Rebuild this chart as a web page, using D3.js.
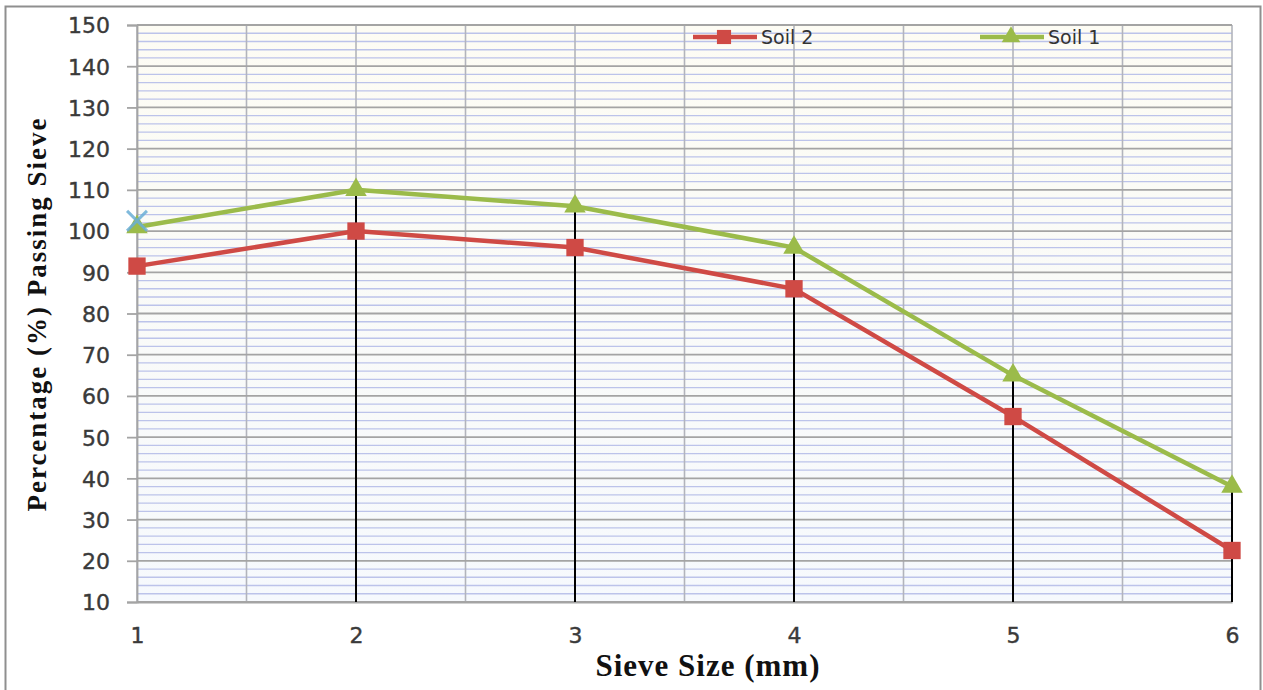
<!DOCTYPE html>
<html>
<head>
<meta charset="utf-8">
<script src="https://cdn.jsdelivr.net/npm/d3@7/dist/d3.min.js"></script>
<style>
  body { margin: 0; background: #fff; }
  svg { display: block; }
</style>
</head>
<body>
<script>
// data
var sieveSizes = [1, 2, 3, 4, 5, 6];
var soil1 = [101, 110, 106, 96, 65, 38];
var soil2 = [91.5, 100, 96, 86, 55, 22.5];
var extraPoint = [{x: 1, y: 102.5}];  // lone blue "x" marker at size 1
var yTicks = [10, 20, 30, 40, 50, 60, 70, 80, 90, 100, 110, 120, 130, 140, 150];

var W = 1263, H = 690;
var plotL = 137, plotR = 1232, plotT = 25, plotB = 602;

var svg = d3.select("body").append("svg")
    .attr("width", W).attr("height", H);

// outer frame
svg.append("rect")
    .attr("x", 5.5).attr("y", 6.5)
    .attr("width", 1255).attr("height", 700)
    .attr("fill", "#fff").attr("stroke", "#8f8f8f").attr("stroke-width", 2);

var x = d3.scaleLinear().domain([1, 6]).range([plotL, plotR]);
var y = d3.scaleLinear().domain([10, 150]).range([plotB, plotT]);

// plot background
var defs = svg.append("defs");
var grad = defs.append("linearGradient").attr("id", "bg")
    .attr("x1", 0).attr("y1", 0).attr("x2", 0).attr("y2", 1);
grad.append("stop").attr("offset", "0%").attr("stop-color", "#fdfcf4");
grad.append("stop").attr("offset", "100%").attr("stop-color", "#f6f9fd");

svg.append("rect")
    .attr("x", plotL).attr("y", plotT)
    .attr("width", plotR - plotL).attr("height", plotB - plotT)
    .attr("fill", "url(#bg)");

// minor horizontal grid (every 2)
var minor = d3.range(12, 150, 2).filter(function(v) { return v % 10 !== 0; });
svg.append("g").selectAll("line").data(minor).enter().append("line")
    .attr("x1", plotL).attr("x2", plotR)
    .attr("y1", function(d) { return y(d); })
    .attr("y2", function(d) { return y(d); })
    .attr("stroke", "#bcc3ea").attr("stroke-width", 1.3);

// vertical grid every 0.5
svg.append("g").selectAll("line").data(d3.range(1, 6.01, 0.5)).enter().append("line")
    .attr("x1", function(d) { return x(d); })
    .attr("x2", function(d) { return x(d); })
    .attr("y1", plotT).attr("y2", plotB)
    .attr("stroke", "#b2b4bc").attr("stroke-width", 1.6);

// major horizontal grid
svg.append("g").selectAll("line").data(yTicks).enter().append("line")
    .attr("x1", plotL).attr("x2", plotR)
    .attr("y1", function(d) { return y(d); })
    .attr("y2", function(d) { return y(d); })
    .attr("stroke", "#a4a4a4").attr("stroke-width", 1.8);

// y axis
var yAxis = svg.append("g")
    .attr("transform", "translate(" + plotL + ",0)")
    .call(d3.axisLeft(y).tickValues(yTicks).tickSize(10).tickPadding(17));
yAxis.select(".domain").attr("stroke", "#a4a4a4").attr("stroke-width", 1.8);
yAxis.selectAll(".tick line").attr("stroke", "#a4a4a4").attr("stroke-width", 1.8);
yAxis.selectAll("text")
    .attr("font-family", "DejaVu Sans, Verdana, sans-serif")
    .attr("font-size", 22).attr("fill", "#3a3a3a")
    .attr("stroke", "#3a3a3a").attr("stroke-width", 0.4)
    .attr("dy", "0.36em");

// x axis labels
var xAxis = svg.append("g")
    .attr("transform", "translate(0," + plotB + ")")
    .call(d3.axisBottom(x).tickValues(sieveSizes).tickSize(0).tickPadding(25).tickFormat(d3.format("d")));
xAxis.select(".domain").attr("stroke", "#a4a4a4").attr("stroke-width", 1.8);
xAxis.selectAll("text")
    .attr("font-family", "DejaVu Sans, Verdana, sans-serif")
    .attr("font-size", 22).attr("fill", "#3a3a3a")
    .attr("stroke", "#3a3a3a").attr("stroke-width", 0.4);

// black drop lines from soil 1 points (sizes 2-6)
svg.append("g").selectAll("line").data(sieveSizes.slice(1)).enter().append("line")
    .attr("x1", function(d) { return x(d); })
    .attr("x2", function(d) { return x(d); })
    .attr("y1", function(d, i) { return y(soil1[i + 1]); })
    .attr("y2", plotB)
    .attr("stroke", "#000").attr("stroke-width", 2);

var red = "#cf4a45", green = "#9bbb4a";

var line = d3.line()
    .x(function(d) { return x(d[0]); })
    .y(function(d) { return y(d[1]); });

var s1 = sieveSizes.map(function(d, i) { return [d, soil1[i]]; });
var s2 = sieveSizes.map(function(d, i) { return [d, soil2[i]]; });

svg.append("path").datum(s2).attr("d", line)
    .attr("fill", "none").attr("stroke", red).attr("stroke-width", 4.5);
svg.append("path").datum(s1).attr("d", line)
    .attr("fill", "none").attr("stroke", green).attr("stroke-width", 4.5);

var sq = d3.symbol().type(d3.symbolSquare).size(300);
var tri = d3.symbol().type(d3.symbolTriangle).size(200);

svg.append("g").selectAll("path").data(s2).enter().append("path")
    .attr("d", sq)
    .attr("transform", function(d) { return "translate(" + x(d[0]) + "," + y(d[1]) + ")"; })
    .attr("fill", red);

svg.append("g").selectAll("path").data(s1).enter().append("path")
    .attr("d", tri)
    .attr("transform", function(d) { return "translate(" + x(d[0]) + "," + y(d[1]) + ")"; })
    .attr("fill", green);

// blue x marker
svg.append("g").selectAll("path").data(extraPoint).enter().append("path")
    .attr("d", d3.symbol().type(d3.symbolX).size(260))
    .attr("transform", function(d) { return "translate(" + x(d.x) + "," + y(d.y) + ")"; })
    .attr("fill", "none").attr("stroke", "#6aaed6").attr("stroke-width", 3).attr("opacity", 0.85);

// legend
var legendItems = [
  {name: "Soil 2", color: red, sym: d3.symbol().type(d3.symbolSquare).size(200), x0: 693},
  {name: "Soil 1", color: green, sym: d3.symbol().type(d3.symbolTriangle).size(150), x0: 980}
];
var lg = svg.append("g").selectAll("g").data(legendItems).enter().append("g")
    .attr("transform", function(d) { return "translate(" + d.x0 + ",37)"; });
lg.append("line").attr("x1", 0).attr("x2", 64).attr("y1", 0).attr("y2", 0)
    .attr("stroke", function(d) { return d.color; }).attr("stroke-width", 4.5);
lg.append("path").attr("d", function(d) { return d.sym(); })
    .attr("transform", "translate(31,0)")
    .attr("fill", function(d) { return d.color; });
lg.append("text").attr("x", 68).attr("y", 0).attr("dy", "0.36em")
    .attr("font-family", "DejaVu Sans, Verdana, sans-serif")
    .attr("font-size", 19).attr("fill", "#333")
    .text(function(d) { return d.name; });

// axis titles
svg.append("text")
    .attr("transform", "translate(46,314) rotate(-90)")
    .attr("text-anchor", "middle")
    .attr("font-family", "Liberation Serif, Times New Roman, serif")
    .attr("font-weight", "bold").attr("font-size", 27)
    .attr("letter-spacing", 2).attr("fill", "#111")
    .text("Percentage (%) Passing Sieve");

svg.append("text")
    .attr("x", 708).attr("y", 676)
    .attr("text-anchor", "middle")
    .attr("font-family", "Liberation Serif, Times New Roman, serif")
    .attr("font-weight", "bold").attr("font-size", 31)
    .attr("letter-spacing", 1).attr("fill", "#111")
    .text("Sieve Size (mm)");
</script>
</body>
</html>
